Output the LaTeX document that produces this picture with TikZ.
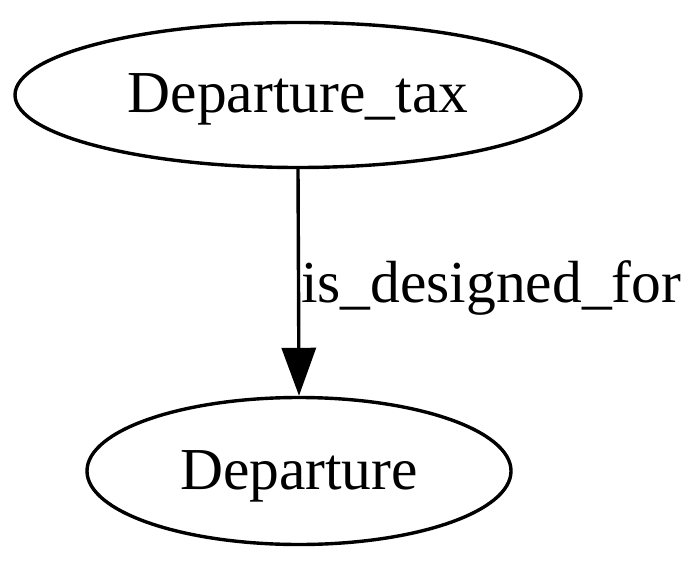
\documentclass[tikz,border=0pt]{standalone}
\usepackage{fontspec}
\setmainfont{Liberation Serif}
\usetikzlibrary{shapes.geometric,arrows.meta}
\tikzset{
  gvnode/.style={draw, ellipse, line width=3.4pt, inner sep=0pt, font=\fontsize{59.5}{60}\selectfont, text height=45pt, text depth=9pt},
  gvedge/.style={line width=3.4pt, -{Triangle[length=48pt,width=34pt]}},
  gvlabel/.style={font=\fontsize{59.5}{60}\selectfont, inner sep=0pt, anchor=base west}
}
\begin{document}
\begin{tikzpicture}[x=1pt,y=1pt]
\useasboundingbox (0,0) rectangle (700,568);
\node[gvnode, minimum width=566pt, minimum height=145pt] (tax) at (298,473) {Departure\_tax};
\node[gvnode, minimum width=424pt, minimum height=147pt] (dep) at (299,97) {Departure};
\draw[gvedge] (tax.south) -- (dep.north);
\node[gvlabel] (lbl) at (301,266) {is\_designed\_for};
\end{tikzpicture}
\end{document}
